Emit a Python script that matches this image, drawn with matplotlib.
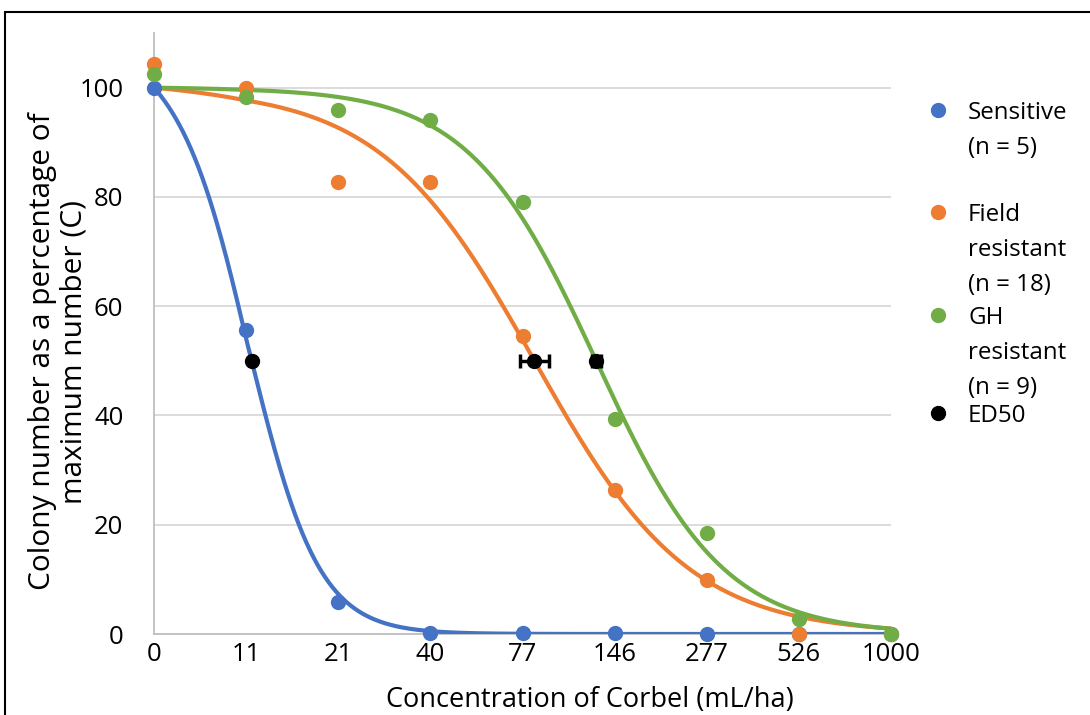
import numpy as np
import matplotlib
matplotlib.use('Agg')
import matplotlib.pyplot as plt
from matplotlib.lines import Line2D
from matplotlib.patches import Rectangle

plt.rcParams['font.family'] = ['Open Sans', 'DejaVu Sans']

# dose categories (mL/ha), plotted at equal spacing
doses = ['0', '11', '21', '40', '77', '146', '277', '526', '1000']

# observed colony number (% of max) at each dose
sensitive = [100, 55.7, 5.9, 0.1, 0.1, 0.1, 0.0, 0.0, 0.0]
field = [104.3, 99.9, 82.7, 82.7, 54.5, 26.3, 9.8, 0.0, 0.0]
gh = [102.5, 98.3, 95.9, 94.1, 79.0, 39.3, 18.4, 2.8, 0.0]

# fitted dose-response (ED50 position on the dose axis, slope)
sens_ed50, sens_slope = 1.06, 2.7
field_ed50, field_slope = 4.13, 1.19
gh_ed50, gh_slope = 4.80, 1.445

# ED50 markers with error
ed50_x = [1.06, 4.13, 4.80]
ed50_y = [50, 50, 50]
ed50_err = [0.0, 0.16, 0.05]

labels = ['Sensitive\n(n = 5)', 'Field\nresistant\n(n = 18)',
          'GH\nresistant\n(n = 9)', 'ED50']
colors = ['#4472C4', '#ED7D31', '#70AD47', '#000000']


def fitted(x, ed50, slope):
    y = 100 / (1 + np.exp(slope * (x - ed50)))
    y0 = 100 / (1 + np.exp(-slope * ed50))
    # untreated control pinned at 100 %
    return y + (100 - y0) * np.clip(1 - x, 0, 1)


fig = plt.figure(figsize=(10.9, 7.15), dpi=100)
ax = fig.add_axes([154 / 1090, 81 / 715, 737 / 1090, 601 / 715])

pos = np.arange(len(doses))
xs = np.linspace(0, len(doses) - 1, 600)

ax.plot(xs, fitted(xs, sens_ed50, sens_slope), color=colors[0], lw=3, zorder=3)
ax.plot(xs, fitted(xs, field_ed50, field_slope), color=colors[1], lw=3, zorder=3)
ax.plot(xs, fitted(xs, gh_ed50, gh_slope), color=colors[2], lw=3, zorder=3)

ax.plot(pos, sensitive, 'o', color=colors[0], ms=10, zorder=4, clip_on=False)
ax.plot(pos, field, 'o', color=colors[1], ms=10, zorder=4, clip_on=False)
ax.plot(pos, gh, 'o', color=colors[2], ms=10, zorder=4, clip_on=False)

ax.errorbar(ed50_x, ed50_y, xerr=ed50_err, fmt='o', color='black', ms=10,
            elinewidth=2.5, capsize=5, capthick=2.5, zorder=5)

ax.set_xlim(0, 8)
ax.set_ylim(0, 110)
ax.set_xticks(pos)
ax.set_xticklabels(doses)
ax.set_yticks([0, 20, 40, 60, 80, 100])
ax.tick_params(axis='both', length=0, labelsize=18.5, colors='black')
ax.tick_params(axis='y', pad=22)
ax.tick_params(axis='x', pad=6)
ax.grid(axis='y', color='#D9D9D9', lw=1.3)
ax.set_axisbelow(True)
for side in ['top', 'right']:
    ax.spines[side].set_visible(False)
ax.spines['left'].set_color('#BFBFBF')
ax.spines['bottom'].set_color('#BFBFBF')
ax.spines['left'].set_linewidth(1.3)
ax.spines['bottom'].set_linewidth(1.3)

ax.set_xlabel('Concentration of Corbel (mL/ha)', fontsize=19.5, va='center')
ax.xaxis.set_label_coords(0.591, -0.11)
ax.set_ylabel('Colony number as a percentage of\nmaximum number (C)',
              fontsize=21.5, linespacing=1.15, va='center')
ax.yaxis.set_label_coords(-0.13, 0.47)

# legend drawn by hand: each entry gets three lines of room
leg_y = [110, 212, 315, 413]
for lab, col, yy in zip(labels, colors, leg_y):
    fy = 1 - yy / 715
    fig.add_artist(Line2D([938 / 1090], [fy], marker='o', color=col, ms=10,
                          transform=fig.transFigure))
    fig.text(968 / 1090, 1 - (yy - 9) / 715, lab, fontsize=17.4, va='top',
             ha='left', linespacing=1.6, transform=fig.transFigure)

# outer frame of the figure
fig.add_artist(Rectangle((5 / 1090, -0.2), 1.2, 1.2 - 12 / 715,
                         transform=fig.transFigure, fill=False,
                         edgecolor='black', lw=1.5))

fig.savefig('out.png')
